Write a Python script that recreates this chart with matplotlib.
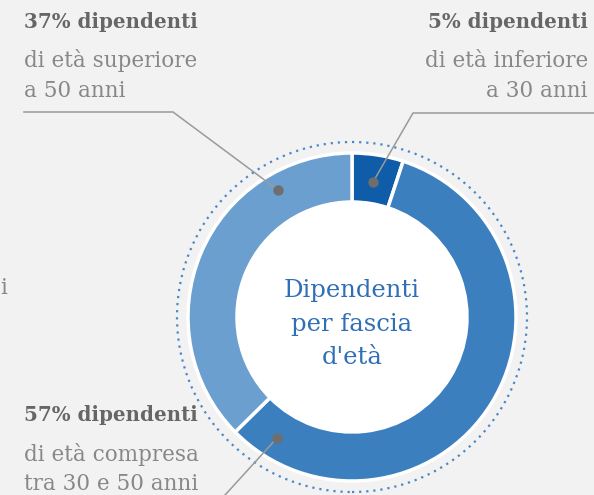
import matplotlib
matplotlib.use("Agg")
import matplotlib.pyplot as plt
from matplotlib.patches import Circle

# Data
labels = ["inferiore a 30 anni", "compresa tra 30 e 50 anni", "superiore a 50 anni"]
values = [5, 57, 37]
colors = ["#0f5ca8", "#3b7fbf", "#6b9fcf"]
title_lines = ["Dipendenti", "per fascia", "d'età"]

W, H = 594, 495
fig = plt.figure(figsize=(W / 100, H / 100), dpi=100, facecolor="#f2f2f2")
ax = fig.add_axes([0, 0, 1, 1])
ax.set_xlim(0, W)
ax.set_ylim(0, H)
ax.set_aspect("equal")
ax.axis("off")
ax.set_facecolor("#f2f2f2")

def Y(y):
    return H - y

cx, cy = 352, Y(317)
R_out, R_in = 164, 115

ax.pie(values, colors=colors, startangle=90, counterclock=False,
       center=(cx, cy), radius=R_out, normalize=True,
       wedgeprops=dict(width=R_out - R_in, edgecolor="white", linewidth=2.5))
ax.set_xlim(0, W)
ax.set_ylim(0, H)
ax.set_aspect("equal")

ax.add_patch(Circle((cx, cy), R_in - 1, facecolor="white", edgecolor="none", zorder=3))
ax.add_patch(Circle((cx, cy), 175, fill=False, edgecolor="#4a88c8",
                    linewidth=1.6, linestyle=(0, (1, 2.2))))

# center text
for i, t in enumerate(title_lines):
    ax.text(cx, Y(291 + 33 * i), t, ha="center", va="center", color="#2f6fb6",
            fontsize=17.5, family="DejaVu Serif", zorder=4)

gray_b = "#666666"
gray_l = "#888888"
fs_b = 14.3
fs_l = 15.5
serif = "DejaVu Serif"

# top-left label
ax.text(24, Y(22), "37% dipendenti", ha="left", va="center", color=gray_b,
        fontsize=fs_b, fontweight="bold", family=serif)
ax.text(24, Y(61), "di età superiore", ha="left", va="center", color=gray_l,
        fontsize=fs_l, family=serif)
ax.text(24, Y(91), "a 50 anni", ha="left", va="center", color=gray_l,
        fontsize=fs_l, family=serif)

# top-right label
ax.text(588, Y(22), "5% dipendenti", ha="right", va="center", color=gray_b,
        fontsize=fs_b, fontweight="bold", family=serif)
ax.text(588, Y(61), "di età inferiore", ha="right", va="center", color=gray_l,
        fontsize=fs_l, family=serif)
ax.text(588, Y(91), "a 30 anni", ha="right", va="center", color=gray_l,
        fontsize=fs_l, family=serif)

# bottom-left label
ax.text(24, Y(415), "57% dipendenti", ha="left", va="center", color=gray_b,
        fontsize=fs_b, fontweight="bold", family=serif)
ax.text(24, Y(454), "di età compresa", ha="left", va="center", color=gray_l,
        fontsize=fs_l, family=serif)
ax.text(24, Y(484), "tra 30 e 50 anni", ha="left", va="center", color=gray_l,
        fontsize=fs_l, family=serif)

# fragment at left edge
ax.text(0, Y(288), "i", ha="left", va="center", color=gray_l,
        fontsize=fs_l, family=serif)

# leader lines
lc = "#9a9a9a"
ax.plot([24, 173, 278], [Y(112), Y(112), Y(190)], color=lc, lw=1.1, zorder=5)
ax.plot([594, 413, 373], [Y(113), Y(113), Y(182)], color=lc, lw=1.1, zorder=5)
ax.plot([277, 215], [Y(438), Y(506)], color=lc, lw=1.1, zorder=5)
for (x, y) in [(278, 190), (373, 182), (277, 438)]:
    ax.plot(x, Y(y), "o", color="#6e6e6e", markersize=6.5, zorder=6)

fig.savefig("out.png", dpi=100, facecolor="#f2f2f2")
